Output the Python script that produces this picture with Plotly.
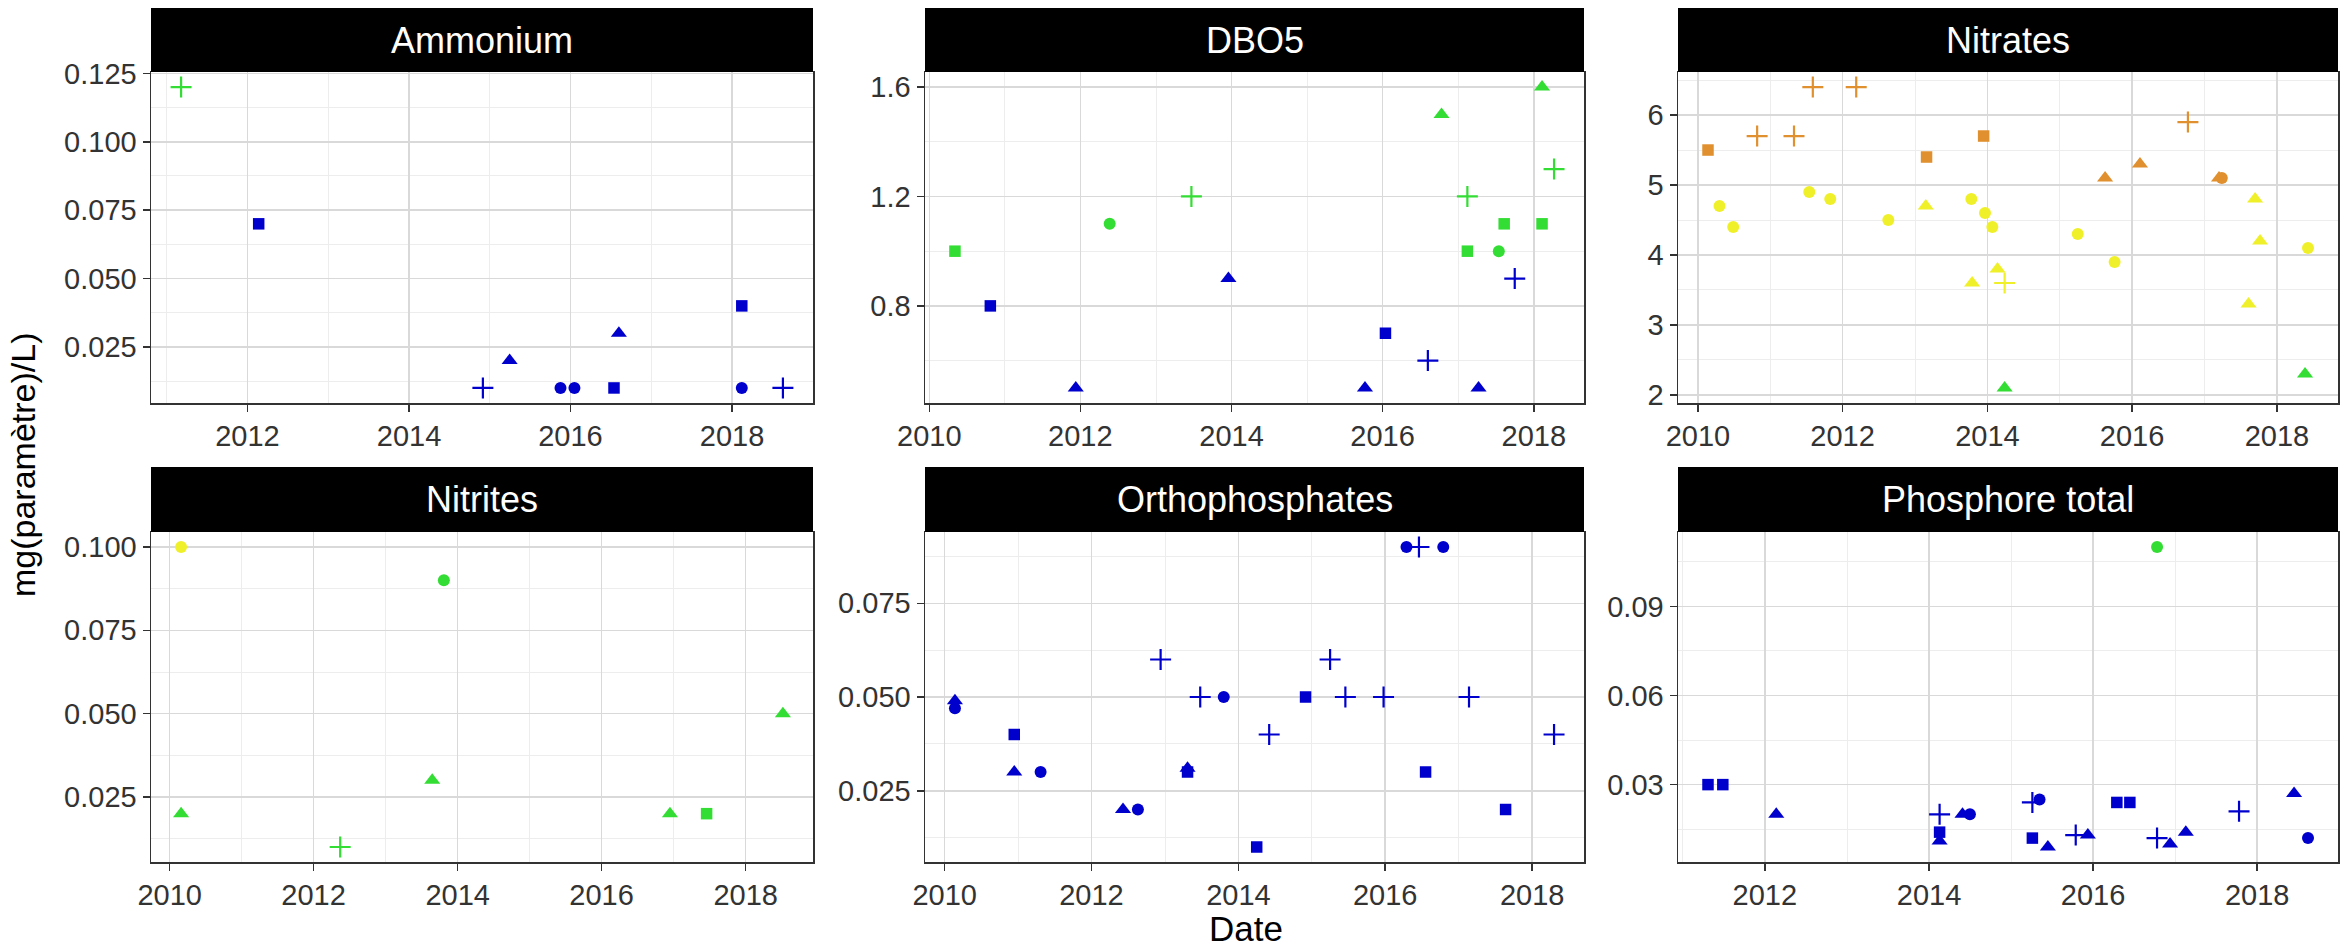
import pandas as pd
import plotly.graph_objects as go

# ---------------- data ----------------
# shape codes: o circle, ^ triangle, s square, + cross ; class codes: B blue, G green, Y yellow, O orange
PANELS = ["Ammonium", "DBO5", "Nitrates", "Nitrites", "Orthophosphates", "Phosphore total"]

AMM_DATES = ["2011-03-07", "2012-02-21", "2014-12-01", "2015-04-01", "2015-11-17", "2016-01-19",
             "2016-07-16", "2016-08-07", "2018-02-14", "2018-02-14", "2018-08-19"]
AMM_VALUES = [0.12, 0.07, 0.01, 0.02, 0.01, 0.01, 0.01, 0.03, 0.04, 0.01, 0.01]
AMM_SHAPES = ["+", "s", "+", "^", "o", "o", "s", "^", "s", "o", "+"]
AMM_CLASSES = ["G", "B", "B", "B", "B", "B", "B", "B", "B", "B", "B"]

DBO_DATES = ["2010-05-05", "2010-10-23", "2011-12-10", "2012-05-22", "2013-06-21", "2013-12-17",
             "2015-10-08", "2016-01-15", "2016-08-07", "2016-10-12", "2017-02-14", "2017-02-14",
             "2017-04-09", "2017-07-16", "2017-08-11", "2017-10-01", "2018-02-10", "2018-02-10",
             "2018-04-09"]
DBO_VALUES = [1.0, 0.8, 0.5, 1.1, 1.2, 0.9, 0.5, 0.7, 0.6, 1.5, 1.2, 1.0, 0.5, 1.0, 1.1, 0.9,
              1.6, 1.1, 1.3]
DBO_SHAPES = ["s", "s", "^", "o", "+", "^", "^", "s", "+", "^", "+", "s", "^", "o", "s", "+",
              "^", "s", "+"]
DBO_CLASSES = ["G", "B", "B", "G", "G", "B", "B", "B", "B", "G", "G", "G", "B", "G", "G", "B",
               "G", "G", "G"]

NO3_DATES = ["2010-02-21", "2010-04-20", "2010-06-28", "2010-10-27", "2011-05-01", "2011-07-17",
             "2011-08-04", "2011-10-31", "2012-03-10", "2012-08-19", "2013-02-28", "2013-02-24",
             "2013-10-12", "2013-10-16", "2013-12-13", "2013-12-20", "2014-01-26", "2014-02-21",
             "2014-03-29", "2014-03-29", "2015-04-02", "2015-08-18", "2015-10-05", "2016-02-10",
             "2016-10-09", "2017-03-15", "2017-03-29", "2017-08-11", "2017-09-13", "2017-10-08",
             "2018-05-23", "2018-06-07"]
NO3_VALUES = [5.5, 4.7, 4.4, 5.7, 5.7, 4.9, 6.4, 4.8, 6.4, 4.5, 5.4, 4.7, 4.8, 3.6, 5.7, 4.6,
              4.4, 3.8, 3.6, 2.1, 4.3, 5.1, 3.9, 5.3, 5.9, 5.1, 5.1, 3.3, 4.8, 4.2, 2.3, 4.1]
NO3_SHAPES = ["s", "o", "o", "+", "+", "o", "+", "o", "+", "o", "s", "^", "o", "^", "s", "o",
              "o", "^", "+", "^", "o", "^", "o", "^", "+", "^", "o", "^", "^", "^", "^", "o"]
NO3_CLASSES = ["O", "Y", "Y", "O", "O", "Y", "O", "Y", "O", "Y", "O", "Y", "Y", "Y", "O", "Y",
               "Y", "Y", "Y", "G", "Y", "O", "Y", "O", "O", "O", "O", "Y", "Y", "Y", "G", "Y"]

NO2_DATES = ["2010-02-28", "2010-02-28", "2012-05-15", "2013-08-25", "2013-10-23", "2016-12-13",
             "2017-06-17", "2018-07-09"]
NO2_VALUES = [0.1, 0.02, 0.01, 0.03, 0.09, 0.02, 0.02, 0.05]
NO2_SHAPES = ["o", "^", "+", "^", "o", "^", "s", "^"]
NO2_CLASSES = ["Y", "G", "G", "G", "G", "G", "G", "G"]

PO4_DATES = ["2010-02-21", "2010-02-21", "2010-12-13", "2010-12-13", "2011-04-23", "2012-06-06",
             "2012-08-19", "2012-12-10", "2013-04-23", "2013-04-23", "2013-06-25", "2013-10-20",
             "2014-04-02", "2014-06-03", "2014-12-01", "2015-04-02", "2015-06-17", "2015-12-24",
             "2016-04-16", "2016-06-17", "2016-07-20", "2016-10-16", "2017-02-21", "2017-08-22",
             "2018-04-20"]
PO4_VALUES = [0.049, 0.047, 0.04, 0.03, 0.03, 0.02, 0.02, 0.06, 0.03, 0.031, 0.05, 0.05, 0.01,
              0.04, 0.05, 0.06, 0.05, 0.05, 0.09, 0.09, 0.03, 0.09, 0.05, 0.02, 0.04]
PO4_SHAPES = ["^", "o", "s", "^", "o", "^", "o", "+", "s", "^", "+", "o", "s", "+", "s", "+",
              "+", "+", "o", "+", "s", "o", "+", "s", "+"]
PO4_CLASSES = ["B"] * 25

PT_DATES = ["2011-04-23", "2011-06-28", "2012-02-21", "2014-02-17", "2014-02-17", "2014-02-17",
            "2014-05-30", "2014-07-02", "2015-04-06", "2015-05-08", "2015-04-06", "2015-06-14",
            "2015-10-16", "2015-12-09", "2016-04-16", "2016-06-13", "2016-10-12", "2016-10-12",
            "2016-12-09", "2017-02-17", "2017-10-12", "2018-06-14", "2018-08-15"]
PT_VALUES = [0.03, 0.03, 0.02, 0.02, 0.014, 0.011, 0.02, 0.02, 0.024, 0.025, 0.012, 0.009,
             0.013, 0.013, 0.024, 0.024, 0.012, 0.11, 0.01, 0.014, 0.021, 0.027, 0.012]
PT_SHAPES = ["s", "s", "^", "+", "s", "^", "^", "o", "+", "o", "s", "^", "+", "^", "s", "s",
             "+", "o", "^", "^", "+", "^", "o"]
PT_CLASSES = ["B", "B", "B", "B", "B", "B", "B", "B", "B", "B", "B", "B", "B", "B", "B", "B",
              "B", "G", "B", "B", "B", "B", "B"]

Y_TICK_STEP = [0.025, 0.4, 1, 0.025, 0.025, 0.03]
Y_TICK_FORMAT = [".3f", ".1f", "d", ".3f", ".3f", ".2f"]

DATA = [
    (AMM_DATES, AMM_VALUES, AMM_SHAPES, AMM_CLASSES),
    (DBO_DATES, DBO_VALUES, DBO_SHAPES, DBO_CLASSES),
    (NO3_DATES, NO3_VALUES, NO3_SHAPES, NO3_CLASSES),
    (NO2_DATES, NO2_VALUES, NO2_SHAPES, NO2_CLASSES),
    (PO4_DATES, PO4_VALUES, PO4_SHAPES, PO4_CLASSES),
    (PT_DATES, PT_VALUES, PT_SHAPES, PT_CLASSES),
]

# ---------------- style ----------------
W, H = 2348, 949
FONT = "Liberation Sans, Arial, Helvetica, sans-serif"
COLORS = {"B": "#0000CD", "G": "#33DD33", "Y": "#F0F02A", "O": "#E0902E"}
SYMBOLS = {"o": "circle", "^": "triangle-up", "s": "square", "+": "cross-thin"}
SIZES = {"o": 12, "^": 14, "s": 11.5, "+": 15}

COL_X = [(151, 813), (925, 1584), (1678, 2338)]
ROW_Y = [(72, 403), (532, 862)]
STRIP_TOP = [8, 467]


def px(x):
    return x / W


def py(y):
    return 1 - y / H


fig = go.Figure()
annotations = []
shapes = []

for i, (name, (dates, vals, shp, cls)) in enumerate(zip(PANELS, DATA)):
    r, c = divmod(i, 3)
    ax = "" if i == 0 else str(i + 1)
    d = pd.to_datetime(pd.Series(dates))
    fig.add_trace(go.Scatter(
        x=d, y=vals, mode="markers", xaxis="x" + ax, yaxis="y" + ax, showlegend=False,
        hoverinfo="skip",
        marker=dict(
            symbol=[SYMBOLS[s] for s in shp],
            size=[SIZES[s] for s in shp],
            color=[COLORS[k] for k in cls],
            opacity=1,
            line=dict(color=[COLORS[k] for k in cls],
                      width=[2.2 if s == "+" else 0 for s in shp]),
        ),
    ))
    # ggplot-like 5% expansion
    dmin, dmax = d.min(), d.max()
    pad = (dmax - dmin) * 0.05
    vmin, vmax = min(vals), max(vals)
    vpad = (vmax - vmin) * 0.05
    x0, x1 = COL_X[c]
    ytop, ybot = ROW_Y[r]
    common = dict(showline=True, mirror=True, linecolor="#333333", linewidth=1.5,
                  ticks="outside", ticklen=7, tickwidth=1.5, tickcolor="#333333",
                  tickfont=dict(family=FONT, size=29, color="#333333"),
                  showgrid=True, gridcolor="#D9D9D9", gridwidth=1.5, zeroline=False,
                  automargin=False)
    fig.layout["xaxis" + ax] = dict(
        common, domain=[px(x0), px(x1)], anchor="y" + ax, type="date",
        range=[dmin - pad, dmax + pad], tick0="2010-01-01", dtick="M24", tickformat="%Y",
        minor=dict(dtick="M12", tick0="2010-01-01", showgrid=True, gridcolor="#EDEDED",
                   gridwidth=1, ticks=""),
    )
    step = Y_TICK_STEP[i]
    fig.layout["yaxis" + ax] = dict(
        common, domain=[py(ybot), py(ytop)], anchor="x" + ax,
        range=[vmin - vpad, vmax + vpad], tick0=0, dtick=step, tickformat=Y_TICK_FORMAT[i],
        minor=dict(dtick=step / 2, tick0=0, showgrid=True, gridcolor="#EDEDED",
                   gridwidth=1, ticks=""),
    )
    # strip
    st = STRIP_TOP[r]
    shapes.append(dict(type="rect", xref="paper", yref="paper", x0=px(x0), x1=px(x1),
                       y0=py(ytop), y1=py(st), fillcolor="black", line=dict(width=0),
                       layer="above"))
    annotations.append(dict(text=name, xref="paper", yref="paper", x=px((x0 + x1) / 2),
                            y=py((st + ytop) / 2), showarrow=False, xanchor="center",
                            yanchor="middle", font=dict(family=FONT, size=36, color="white")))

annotations.append(dict(text="Date", xref="paper", yref="paper", x=px(1246), y=py(928),
                        showarrow=False, xanchor="center", yanchor="middle",
                        font=dict(family=FONT, size=35, color="black")))
annotations.append(dict(text="mg(paramètre)/L)", xref="paper", yref="paper", x=px(23),
                        y=py(465), showarrow=False, xanchor="center", yanchor="middle",
                        textangle=-90, font=dict(family=FONT, size=34, color="black")))

fig.update_layout(width=W, height=H,
                  margin=dict(l=0, r=0, t=0, b=0, pad=0, autoexpand=False),
                  paper_bgcolor="white", plot_bgcolor="white",
                  shapes=shapes, annotations=annotations, showlegend=False,
                  hovermode=False, font=dict(family=FONT))

fig.write_html("out.html", config={"displayModeBar": False, "staticPlot": True},
               post_script="document.body.style.margin='0';document.body.style.padding='0';")
